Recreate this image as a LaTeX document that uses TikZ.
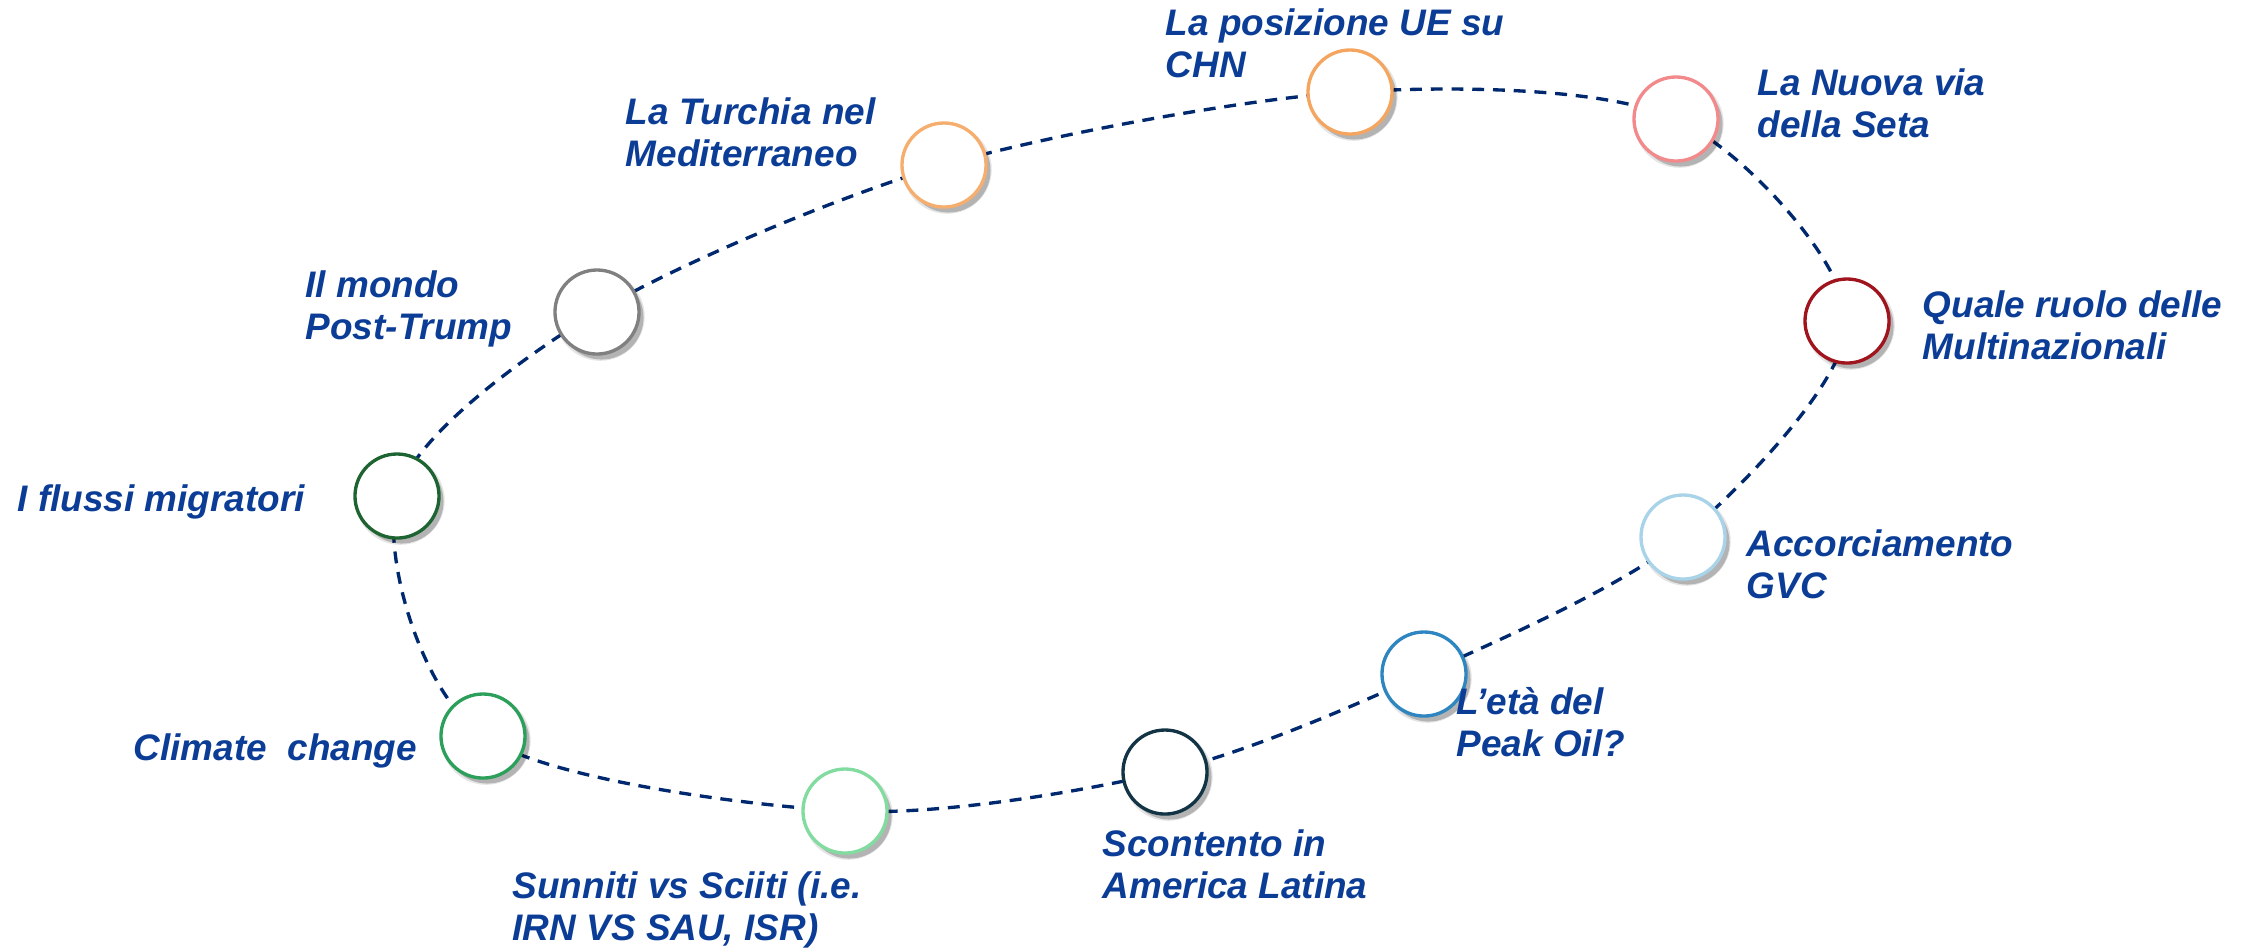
\documentclass[tikz,border=0pt]{standalone}
\usepackage{fontspec}
\setmainfont{Liberation Sans}
\usetikzlibrary{shadows,backgrounds}
\definecolor{txtblue}{RGB}{11,61,150}
\definecolor{ringblue}{RGB}{0,40,110}
\definecolor{corange}{RGB}{246,174,110}
\definecolor{corange2}{RGB}{244,166,96}
\definecolor{cpink}{RGB}{242,138,140}
\definecolor{cdarkred}{RGB}{160,20,30}
\definecolor{clightblue}{RGB}{169,211,232}
\definecolor{cmidblue}{RGB}{46,134,193}
\definecolor{cnavy}{RGB}{18,52,68}
\definecolor{clightgreen}{RGB}{130,220,160}
\definecolor{cgreen}{RGB}{44,160,90}
\definecolor{cdarkgreen}{RGB}{30,100,50}
\definecolor{cgray}{RGB}{128,128,128}
\newcommand{\twol}[1]{\begin{tabular}[t]{@{}l@{}}#1\end{tabular}}
\begin{document}
\begin{tikzpicture}[x=0.01cm,y=-0.01cm,
  bub/.style={circle, draw=#1, line width=0.95pt, fill=white, minimum size=0.84cm, inner sep=0pt,
    drop shadow={shadow xshift=0.03cm, shadow yshift=-0.04cm, shadow scale=1.06, opacity=0.10, fill=black},
    drop shadow={shadow xshift=0.045cm, shadow yshift=-0.055cm, opacity=0.22, fill=black}},
  lbl/.style={anchor=base west, inner sep=0pt, text=txtblue, font=\fontsize{10.5}{12}\selectfont\bfseries\itshape},
  ring/.style={draw=ringblue, line width=0.95pt, dash pattern=on 3.4pt off 2.5pt}]
\useasboundingbox (0,0) rectangle (2249,950);
% circles
\node[bub=corange]     (cturchia) at (944,165) {};
\node[bub=corange2]    (cue)      at (1350,92) {};
\node[bub=cpink]       (cnuova)   at (1676,119) {};
\node[bub=cdarkred]    (cmulti)   at (1847,321) {};
\node[bub=clightblue]  (caccorc)  at (1683,537) {};
\node[bub=cmidblue]    (cpeak)    at (1424,674) {};
\node[bub=cnavy]       (cscont)   at (1165,772) {};
\node[bub=clightgreen] (csunniti) at (845,811) {};
\node[bub=cgreen]      (cclimate) at (483,736) {};
\node[bub=cdarkgreen]  (cflussi)  at (397,496) {};
\node[bub=cgray]       (ctrump)   at (597,312) {};
% ring
\begin{scope}[on background layer]
\draw[ring] plot[smooth cycle] coordinates {(cflussi.center) (ctrump.center) (cturchia.center) (cue.center) (cnuova.center) (cmulti.center) (caccorc.center) (cpeak.center) (cscont.center) (csunniti.center) (cclimate.center)};
\end{scope}
% labels
\node[lbl] (tturchia) at (625,124)  {\twol{La Turchia nel\\Mediterraneo}};
\node[lbl] (tue)      at (1165,35)  {\twol{La posizione UE su\\CHN}};
\node[lbl] (tnuova)   at (1757,95)  {\twol{La Nuova via\\della Seta}};
\node[lbl] (tmulti)   at (1922,317) {\twol{Quale ruolo delle\\Multinazionali}};
\node[lbl] (ttrump)   at (305,297)  {\twol{Il mondo\\Post-Trump}};
\node[lbl] (tflussi)  at (17,511)   {I flussi migratori};
\node[lbl] (taccorc)  at (1746,556) {\twol{Accorciamento\\GVC}};
\node[lbl] (tpeak)    at (1456,714) {\twol{L’età del\\Peak Oil?}};
\node[lbl] (tscont)   at (1102,856) {\twol{Scontento in\\America Latina}};
\node[lbl] (tclimate) at (133,760)  {Climate\ \ change};
\node[lbl] (tsunniti) at (512,898)  {\twol{Sunniti vs Sciiti (i.e.\\IRN VS SAU, ISR)}};
\end{tikzpicture}
\end{document}
